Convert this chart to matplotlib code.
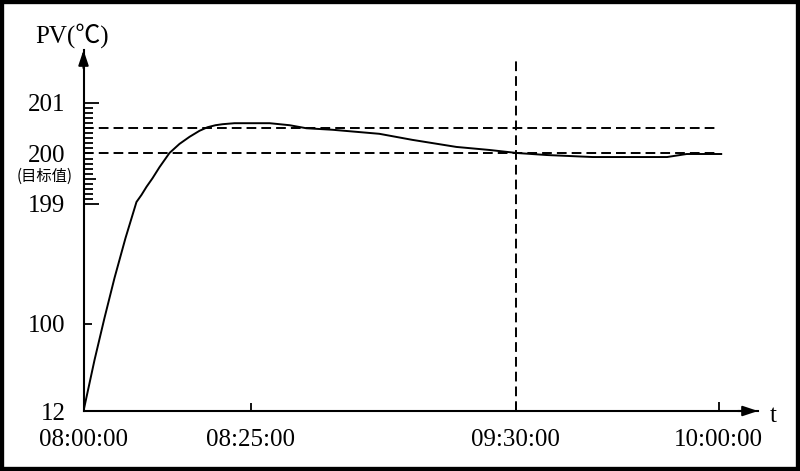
import numpy as np
import matplotlib
matplotlib.use("Agg")
import matplotlib.pyplot as plt
from matplotlib.patches import Rectangle

# ---- data (minutes after 08:00:00, PV in deg C) ----
t_min = [0, 1.65, 3.14, 4.64, 6.29, 7.93, 8.68, 9.43, 10.33, 11.38, 12.87, 14.37,
         15.87, 17.37, 18.56, 19.76, 20.81, 22.6, 24.85, 29.7, 34.6, 38.7, 45.1,
         56.6, 64.7, 75.5, 83.6, 90.2, 94.6, 101.4, 112.4, 115.3, 120.4]
pv = [12, 63.6, 104.95, 137.95, 170.95, 199.04, 199.18, 199.34, 199.51, 199.73, 200.01, 200.19,
      200.33, 200.45, 200.52, 200.56, 200.58, 200.60, 200.60, 200.60, 200.56, 200.50, 200.47,
      200.39, 200.27, 200.13, 200.07, 200.01, 199.97, 199.93, 199.93, 199.99, 199.99]

setpoint = 200
upper_band = 200.5
marker_time = 90

x_ticks = [0, 25, 90, 120]
x_labels = ["08:00:00", "08:25:00", "09:30:00", "10:00:00"]
y_ticks = [12, 100, 199, 199.5, 200, 201]
y_labels = ["12", "100", "199", "", "200", "201"]
y_minor = [199.1, 199.2, 199.3, 199.4, 199.6, 199.7, 199.8, 199.9,
           200.1, 200.2, 200.3, 200.4, 200.5, 200.6, 200.7, 200.8, 200.9]

# ---- non-linear (schematic) scales ----
YV = [12, 100, 199, 201, 203]
YP = [0, 87, 207, 308, 409]
XV = [0, 25, 90, 120, 130]
XP = [0, 167, 432, 635, 702.7]

def yf(v): return np.interp(v, YV, YP)
def yi(p): return np.interp(p, YP, YV)
def xf(v): return np.interp(v, XV, XP)
def xi(p): return np.interp(p, XP, XV)

SERIF = ["Liberation Serif", "Noto Sans CJK SC"]
plt.rcParams["font.family"] = SERIF

W, H = 800, 471
fig = plt.figure(figsize=(8, 4.71), dpi=100)
fig.patch.set_facecolor("white")
left, right, bottom, top = 83.5, 758, 411, 50
ax = fig.add_axes([left / W, (H - bottom) / H, (right - left) / W, (bottom - top) / H])
ax.set_xscale("function", functions=(xf, xi))
ax.set_yscale("function", functions=(yf, yi))
ax.set_xlim(0, xi(right - left))
ax.set_ylim(12, yi(bottom - top))

for s in ["top", "right"]:
    ax.spines[s].set_visible(False)
for s in ["left", "bottom"]:
    ax.spines[s].set_linewidth(1.5)

# arrows on axes
ax.annotate("", xy=(0, 1.0), xytext=(0, 0.95), xycoords="axes fraction",
            arrowprops=dict(arrowstyle="-|>,head_length=0.9,head_width=0.3",
                            mutation_scale=10, color="k", lw=1.5, shrinkA=0, shrinkB=0))
ax.annotate("", xy=(1.0, 0), xytext=(0.97, 0), xycoords="axes fraction",
            arrowprops=dict(arrowstyle="-|>,head_length=0.9,head_width=0.3",
                            mutation_scale=10, color="k", lw=1.5, shrinkA=0, shrinkB=0))

# reference lines
dash = (0, (5, 2.6))
ax.hlines([upper_band, setpoint], 0, 119.5, colors="k", linestyles=[dash], lw=1.4)
ax.vlines(marker_time, 12, yi(411 - 60), colors="k", linestyles=[dash], lw=1.4)

# curve
ax.plot(t_min, pv, color="k", lw=1.4, solid_joinstyle="round")

# ticks
ax.set_xticks(x_ticks)
ax.set_xticklabels(x_labels, fontsize=18)
ax.tick_params(axis="x", direction="in", length=6, width=1.3, pad=13)
for tk, ln in zip(ax.xaxis.get_major_ticks(), [0, 6, 6, 6.5]):
    tk.tick1line.set_markersize(ln)

ax.set_yticks(y_ticks)
ax.set_yticklabels(y_labels, fontsize=18)
ax.set_yticks(y_minor, minor=True)
ax.tick_params(axis="y", which="major", direction="in", width=1.3, pad=13)
ax.tick_params(axis="y", which="minor", direction="in", length=6.5, width=1.3)
for tk, ln in zip(ax.yaxis.get_major_ticks(), [0, 6, 11, 8.6, 6.5, 11]):
    tk.tick1line.set_markersize(ln)

# extra texts
fig.text(45 / W, 1 - 176 / H, "(目标值)", fontsize=11, ha="center", va="center",
         family=["Noto Sans CJK SC", "DejaVu Sans"])
fig.text(72 / W, 1 - 36 / H, "PV(℃)", fontsize=18, ha="center", va="center",
         family=["Liberation Serif", "Noto Sans CJK SC", "DejaVu Sans"])
fig.text(773 / W, 1 - 416 / H, "t", fontsize=18, ha="center", va="center")

# outer frame
fig.add_artist(Rectangle((0, 0), 1, 1, transform=fig.transFigure, fill=False,
                         lw=6, ec="black"))

fig.savefig("out.png", dpi=100)
